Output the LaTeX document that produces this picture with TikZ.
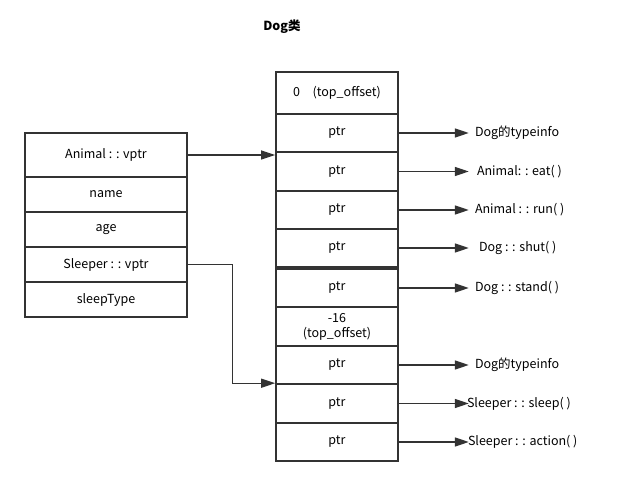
\documentclass[tikz,border=0pt]{standalone}
\usepackage{fontspec}
\setmainfont{Noto Sans CJK SC}
\usetikzlibrary{arrows.meta}
\definecolor{ink}{HTML}{333333}
\tikzset{
	cell/.style={draw=ink, line width=1.6pt, inner sep=0pt, align=center,
		font=\fontsize{12.5}{15}\selectfont},
	lcell/.style={cell, minimum width=162pt},
	rcell/.style={cell, minimum width=122pt},
	lbl/.style={anchor=west, inner sep=0pt, font=\fontsize{12.5}{15}\selectfont},
	arr/.style={draw=ink, line width=1.3pt, -{Triangle[length=14pt,width=9pt]}}
}
\begin{document}
\begin{tikzpicture}[x=1pt, y=-1pt]
\useasboundingbox (0,0) rectangle (625,497);
\node[font=\bfseries\fontsize{12.5}{15}\selectfont] (title) at (282,27) {Dog类};
% object layout
\foreach \n/\y/\h/\t in {l1/155/44/{Animal : : vptr}, l2/194.5/35/name, l3/229.5/35/age,
	l4/264.5/35/{Sleeper : : vptr}, l5/299.5/35/sleepType}
	\node[lcell, minimum height=\h pt] (\n) at (106,\y) {\t};
% vtable
\foreach \n/\y/\h/\t in {r1/93/42/{0\quad(top\_offset)}, r2/133/38/ptr, r3/171.5/39/ptr,
	r4/210/38/ptr, r5/248/38/ptr, r6/288/38/ptr, r7/326.5/39/{-16\\(top\_offset)},
	r8/365/38/ptr, r9/403.5/39/ptr, r10/442/38/ptr}
	\node[rcell, minimum height=\h pt] (\n) at (337,\y) {\t};
% function entries
\foreach \n/\d/\t in {r2/6/Dog的typeinfo, r3/8/{Animal: : eat( )}, r4/6/{Animal : : run( )},
	r5/10/{Dog : : shut( )}, r6/6/{Dog : : stand( )}, r8/6/Dog的typeinfo,
	r9/-2/{Sleeper : : sleep( )}, r10/-1/{Sleeper : : action( )}}
{
	\node[lbl] (f\n) at ([xshift=70pt+\d pt]\n.east) {\t};
	\draw[arr, shorten >=\d pt] (\n.east) -- (f\n.west);
}
\draw[arr] (l1.east) -- (l1.east -| r3.west);
\draw[arr] (l4.east) -- ++(45,0) |- (r9.north west);
\end{tikzpicture}
\end{document}
